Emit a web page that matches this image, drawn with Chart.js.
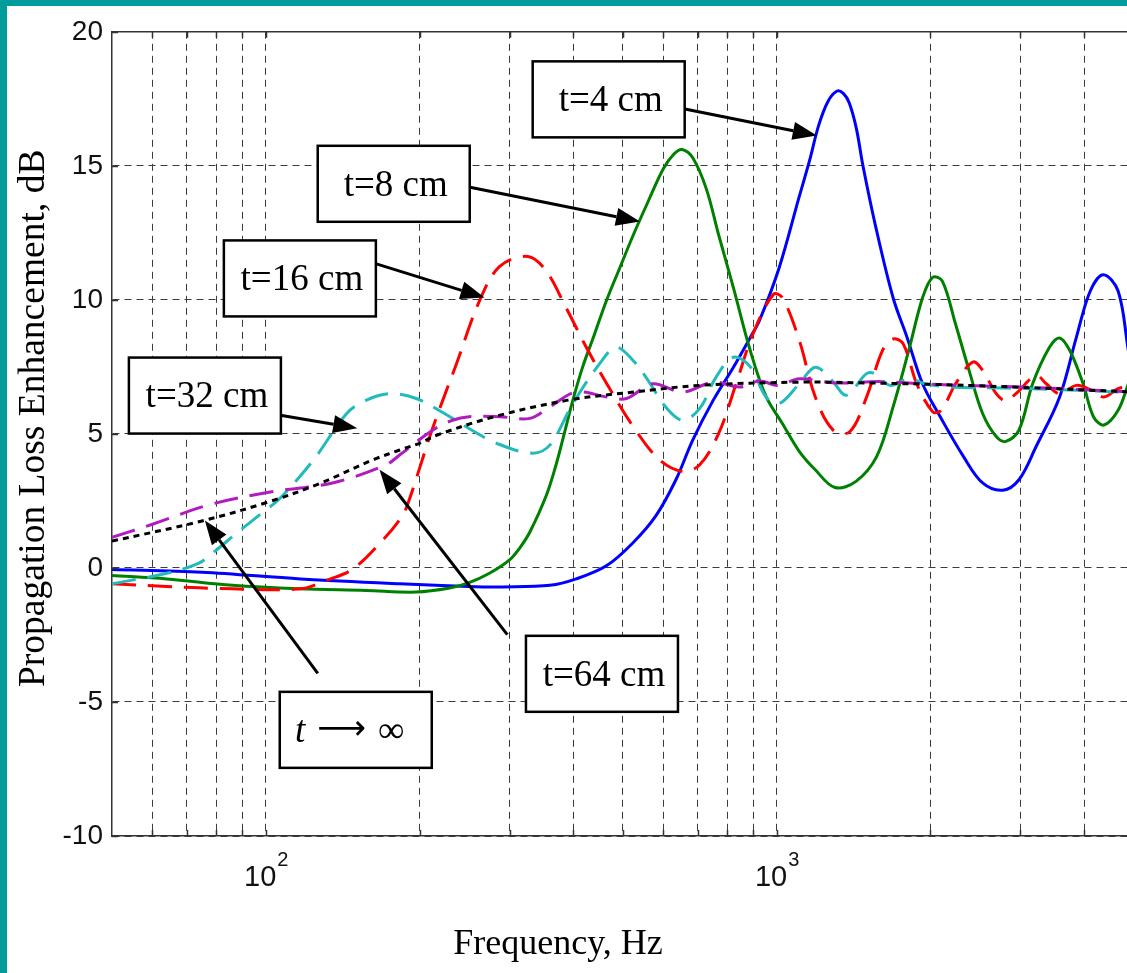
<!DOCTYPE html>
<html>
<head>
<meta charset="utf-8">
<title>Propagation Loss Enhancement</title>
<script src="https://cdn.jsdelivr.net/npm/chart.js@4.4.1/dist/chart.umd.min.js"></script>
<style>
  html, body { margin: 0; padding: 0; background: #009b9b; overflow: hidden; }
  #frame { position: absolute; left: 7px; top: 6px; width: 1120px; height: 967px; background: #fff; }
  canvas { display: block; }
</style>
</head>
<body>
<div id="frame"><canvas id="plec" width="1120" height="967"></canvas></div>
<script>
// plate thickness t = 4 cm (Hz / dB)
const freqT4 = [50, 75, 117, 183, 266, 287, 360, 405, 465, 524, 580, 635, 685, 751, 823, 888, 925, 1011, 1107, 1160,
  1208, 1260, 1313, 1350, 1386, 1432, 1475, 1560, 1690, 1800, 1930, 2090, 2320, 2530, 2770, 2980, 3220, 3580, 3860, 4110,
  4360, 4660, 4880];
const lossT4 = [-0.06, -0.16, -0.41, -0.59, -0.71, -0.71, -0.65, -0.41, 0.09, 0.95, 1.94, 3.29, 4.77, 6.25, 7.49, 8.6, 9.22, 11.19, 13.85, 15.2,
  16.5, 17.4, 17.79, 17.7, 17.36, 16.4, 15.01, 12.79, 10.08, 8.6, 6.87, 5.64, 4.16, 3.17, 2.9, 3.29, 4.53, 6.38, 8.6, 10.33,
  10.94, 10.33, 8.1];

// t = 8 cm
const freqT8 = [50, 64, 86, 116, 157, 197, 229, 250, 274, 300, 315, 329, 354, 370, 384, 399, 417, 440, 464, 493,
  524, 560, 600, 630, 653, 685, 728, 770, 823, 888, 953, 1026, 1107, 1190, 1300, 1430, 1570, 1690, 1820, 1930,
  2020, 2110, 2240, 2380, 2530, 2690, 2810, 2980, 3170, 3420, 3580, 3750, 3980, 4170, 4370, 4660, 4880];
const lossT8 = [-0.28, -0.41, -0.65, -0.78, -0.84, -0.9, -0.75, -0.55, -0.2, 0.3, 0.78, 1.35, 2.7, 3.85, 5.02, 6.25, 7.49, 8.72, 9.96, 11.19,
  12.42, 13.66, 14.89, 15.45, 15.61, 15.3, 14.15, 12.42, 10.45, 8.1, 6.4, 5.39, 4.35, 3.66, 3.0, 3.23, 4.16, 6.01, 8.23, 10.08,
  10.84, 10.7, 9.09, 7.37, 5.76, 4.9, 4.72, 5.14, 6.87, 8.23, 8.58, 8.1, 6.87, 5.64, 5.33, 5.88, 6.87];

// t = 16 cm
const freqT16 = [50, 64, 86, 117, 131, 148, 170, 183, 189, 212, 236, 262, 287, 326, 354, 387, 424, 465, 524, 590,
  655, 707, 770, 833, 898, 985, 1026, 1107, 1190, 1290, 1390, 1500, 1610, 1690, 1770, 1880, 2020, 2100, 2240, 2420,
  2530, 2690, 2810, 2940, 3220, 3370, 3580, 3860, 4110, 4370, 4660, 4880];
const lossT16 = [-0.59, -0.69, -0.78, -0.78, -0.47, -0.04, 1.07, 1.81, 2.31, 5.2, 7.6, 9.96, 11.25, 11.62, 11.07, 9.71, 8.23, 6.87, 5.27, 4.03,
  3.6, 3.85, 5.02, 6.87, 8.72, 10.2, 10.08, 8.5, 6.38, 5.14, 5.08, 6.38, 8.1, 8.54, 8.35, 6.87, 5.83, 5.88, 6.87, 7.68,
  7.37, 6.5, 6.23, 6.5, 7.18, 6.87, 6.5, 6.81, 6.65, 6.38, 6.69, 6.77];

// t = 32 cm
const freqT32 = [50, 64, 74, 79, 88, 99, 106, 124, 144, 157, 175, 197, 222, 250, 283, 333, 360, 399, 450, 485,
  524, 560, 606, 655, 707, 761, 823, 888, 953, 1011, 1107, 1190, 1282, 1370, 1497, 1560, 1667, 1820, 1950, 2200,
  2600, 3000, 3600, 4200, 4880];
const lossT32 = [-0.59, -0.2, 0.18, 0.58, 1.32, 2.1, 2.55, 4.03, 5.76, 6.25, 6.5, 6.32, 5.8, 5.2, 4.65, 4.28, 4.59, 6.13, 7.61, 8.23,
  7.73, 7.0, 6.01, 5.51, 5.95, 7.12, 7.86, 7.5, 6.38, 6.13, 6.87, 7.49, 7.0, 6.44, 7.24, 7.24, 6.81, 7.06, 6.87, 6.75,
  6.72, 6.7, 6.65, 6.6, 6.55];

// t = 64 cm
const freqT64 = [50, 60, 78, 102, 135, 172, 183, 212, 232, 250, 287, 329, 360, 405, 465, 508, 571, 655, 751, 846,
  925, 1010, 1107, 1300, 1600, 2000, 3000, 4000, 4880];
const lossT64 = [1.14, 1.63, 2.37, 2.83, 3.17, 3.85, 4.22, 5.14, 5.51, 5.64, 5.64, 5.58, 6.01, 6.56, 6.38, 6.32, 6.87, 6.56, 6.93, 6.75,
  6.97, 6.81, 7.06, 6.9, 6.95, 6.85, 6.75, 6.65, 6.57];

// infinite thickness limit
const freqInf = [50, 75, 100, 126, 162, 183, 200, 216, 280, 388, 524, 707, 1107, 1500, 2000, 2900, 4880];
const lossInf = [1.0, 1.75, 2.43, 3.11, 4.03, 4.4, 4.65, 4.95, 5.64, 6.25, 6.56, 6.81, 6.93, 6.9, 6.85, 6.75, 6.57];

// axis ticks
const freqGrid = [60, 70, 80, 90, 100, 200, 300, 400, 500, 600, 700, 800, 900, 1000, 2000, 3000, 4000];
const decadeLabels = [[100, '2'], [1000, '3']];
const dbTicks = [-10, -5, 0, 5, 10, 15, 20];

// callouts: label, box centre (Hz, dB), arrow tail and head (Hz, dB)
const callouts = [
  { text: 't=4 cm',  box: [469, 17.48],  from: [661, 17.12],   to: [1198, 16.13] },
  { text: 't=8 cm',  box: [178, 14.33],  from: [251, 14.2],    to: [540, 12.92] },
  { text: 't=16 cm', box: [116.6, 10.8], from: [164, 11.35],   to: [268, 10.09] },
  { text: 't=32 cm', box: [76, 6.43],    from: [107.5, 5.69],  to: [151, 5.21] },
  { text: 't=64 cm', box: [455, -3.95],  from: [297, -2.49],   to: [167, 3.66] },
  { text: 'inf',     box: [150, -6.04],  from: [126.4, -3.93], to: [76, 1.77] }
];

const SERIF = '"Liberation Serif", "Times New Roman", serif';
const SANS = '"Liberation Sans", Arial, sans-serif';

const pts = (xs, ys) => xs.map((f, i) => ({ x: f, y: ys[i] }));

function series(xs, ys, color, dash) {
  return {
    data: pts(xs, ys),
    borderColor: color,
    borderWidth: 3,
    borderDash: dash,
    pointRadius: 0,
    tension: 0.35,
    fill: false
  };
}

function drawArrow(ctx, x0, y0, x1, y1) {
  const ang = Math.atan2(y1 - y0, x1 - x0);
  const len = 24, half = 9;
  const bx = x1 - len * Math.cos(ang), by = y1 - len * Math.sin(ang);
  ctx.strokeStyle = '#000';
  ctx.lineWidth = 3;
  ctx.beginPath();
  ctx.moveTo(x0, y0);
  ctx.lineTo(bx, by);
  ctx.stroke();
  ctx.fillStyle = '#000';
  ctx.beginPath();
  ctx.moveTo(x1, y1);
  ctx.lineTo(bx + half * Math.sin(ang), by - half * Math.cos(ang));
  ctx.lineTo(bx - half * Math.sin(ang), by + half * Math.cos(ang));
  ctx.closePath();
  ctx.fill();
}

const decor = {
  id: 'decor',
  afterDatasetsDraw(chart) {
    const { ctx, chartArea, scales: { x, y } } = chart;
    ctx.save();

    // solid frame line along the top, short inward ticks on the frame
    ctx.strokeStyle = '#333';
    ctx.lineWidth = 1.5;
    ctx.beginPath();
    ctx.moveTo(chartArea.left, chartArea.top);
    ctx.lineTo(chartArea.right, chartArea.top);
    freqGrid.forEach(v => {
      const px = Math.round(x.getPixelForValue(v)) + 0.5;
      ctx.moveTo(px, chartArea.bottom);
      ctx.lineTo(px, chartArea.bottom - 6);
      ctx.moveTo(px, chartArea.top);
      ctx.lineTo(px, chartArea.top + 6);
    });
    dbTicks.forEach(v => {
      const py = Math.round(y.getPixelForValue(v)) + 0.5;
      ctx.moveTo(chartArea.left, py);
      ctx.lineTo(chartArea.left + 6, py);
    });
    ctx.stroke();

    // callout boxes with arrows
    callouts.forEach(c => {
      drawArrow(ctx, x.getPixelForValue(c.from[0]), y.getPixelForValue(c.from[1]),
        x.getPixelForValue(c.to[0]), y.getPixelForValue(c.to[1]));
      const cx = x.getPixelForValue(c.box[0]);
      const cy = y.getPixelForValue(c.box[1]);
      const w = 152, h = 76;
      ctx.fillStyle = '#fff';
      ctx.fillRect(cx - w / 2, cy - h / 2, w, h);
      ctx.strokeStyle = '#000';
      ctx.lineWidth = 2.5;
      ctx.strokeRect(cx - w / 2, cy - h / 2, w, h);
      ctx.fillStyle = '#000';
      ctx.textBaseline = 'middle';
      if (c.text === 'inf') {
        // italic t, long arrow, infinity
        ctx.textAlign = 'left';
        ctx.font = 'italic 37px ' + SERIF;
        const tW = ctx.measureText('t').width;
        ctx.font = '34px "DejaVu Sans"';
        const aW = ctx.measureText('\u27F6').width;
        ctx.font = '37px ' + SERIF;
        const iW = ctx.measureText('\u221E').width;
        const gap = 12;
        let sx = cx - (tW + aW + iW + 2 * gap) / 2 - 6;
        ctx.font = 'italic 37px ' + SERIF;
        ctx.fillText('t', sx, cy + 2);
        sx += tW + gap;
        ctx.font = '34px "DejaVu Sans"';
        ctx.fillText('\u27F6', sx, cy);
        sx += aW + gap;
        ctx.font = '37px ' + SERIF;
        ctx.fillText('\u221E', sx, cy + 2);
      } else {
        ctx.font = '37px ' + SERIF;
        ctx.textAlign = 'center';
        ctx.fillText(c.text, cx + 2, cy + 2);
      }
    });
    ctx.restore();
  },
  afterDraw(chart) {
    const { ctx, chartArea, scales: { x } } = chart;
    ctx.save();
    ctx.fillStyle = '#111';
    ctx.textBaseline = 'alphabetic';
    ctx.textAlign = 'left';
    // power-of-ten labels on the frequency axis
    decadeLabels.forEach(([v, p]) => {
      const px = x.getPixelForValue(v);
      ctx.font = '29px ' + SANS;
      const w1 = ctx.measureText('10').width;
      ctx.font = '20px ' + SANS;
      const w2 = ctx.measureText(p).width;
      const sx = px - (w1 + w2) / 2;
      ctx.font = '29px ' + SANS;
      ctx.fillText('10', sx, chartArea.bottom + 50);
      ctx.font = '20px ' + SANS;
      ctx.fillText(p, sx + w1 + 1, chartArea.bottom + 30);
    });
    // axis titles
    ctx.fillStyle = '#000';
    ctx.textAlign = 'center';
    ctx.font = '36px ' + SERIF;
    ctx.fillText('Frequency, Hz', chartArea.left + 446, chartArea.bottom + 118);
    ctx.save();
    ctx.translate(36.5, chartArea.top + 386.5);
    ctx.rotate(-Math.PI / 2);
    ctx.font = '37.5px ' + SERIF;
    ctx.fillText('Propagation Loss Enhancement, dB', 0, 0);
    ctx.restore();
    ctx.restore();
  }
};

new Chart(document.getElementById('plec'), {
  type: 'line',
  data: {
    datasets: [
      series(freqInf, lossInf, '#000000', [6, 5]),
      series(freqT64, lossT64, '#b01cc0', [24, 12]),
      series(freqT32, lossT32, '#22bbbb', [24, 12]),
      series(freqT16, lossT16, '#ff0000', [24, 12]),
      series(freqT8, lossT8, '#008000', []),
      series(freqT4, lossT4, '#0000ff', [])
    ]
  },
  options: {
    responsive: false,
    animation: false,
    layout: { padding: { top: 19, right: 0, bottom: 0, left: 0 } },
    plugins: { legend: { display: false }, tooltip: { enabled: false } },
    scales: {
      x: {
        type: 'logarithmic',
        min: 50,
        max: 4850,
        afterBuildTicks: scale => { scale.ticks = freqGrid.map(v => ({ value: v })); },
        afterFit: scale => { scale.height = 137; },
        ticks: { callback: () => '', autoSkip: false },
        grid: { color: '#3c3c3c', lineWidth: 1, drawTicks: false },
        border: { display: true, color: '#333', width: 1.5, dash: [7, 5] }
      },
      y: {
        min: -10,
        max: 20,
        afterBuildTicks: scale => { scale.ticks = dbTicks.map(v => ({ value: v })); },
        afterFit: scale => { scale.width = 105; },
        ticks: {
          color: '#111',
          padding: 9,
          font: { family: SANS, size: 28 }
        },
        grid: { color: '#3c3c3c', lineWidth: 1, drawTicks: false },
        border: { display: true, color: '#333', width: 1.5, dash: [7, 5] }
      }
    }
  },
  plugins: [decor]
});
</script>
</body>
</html>
